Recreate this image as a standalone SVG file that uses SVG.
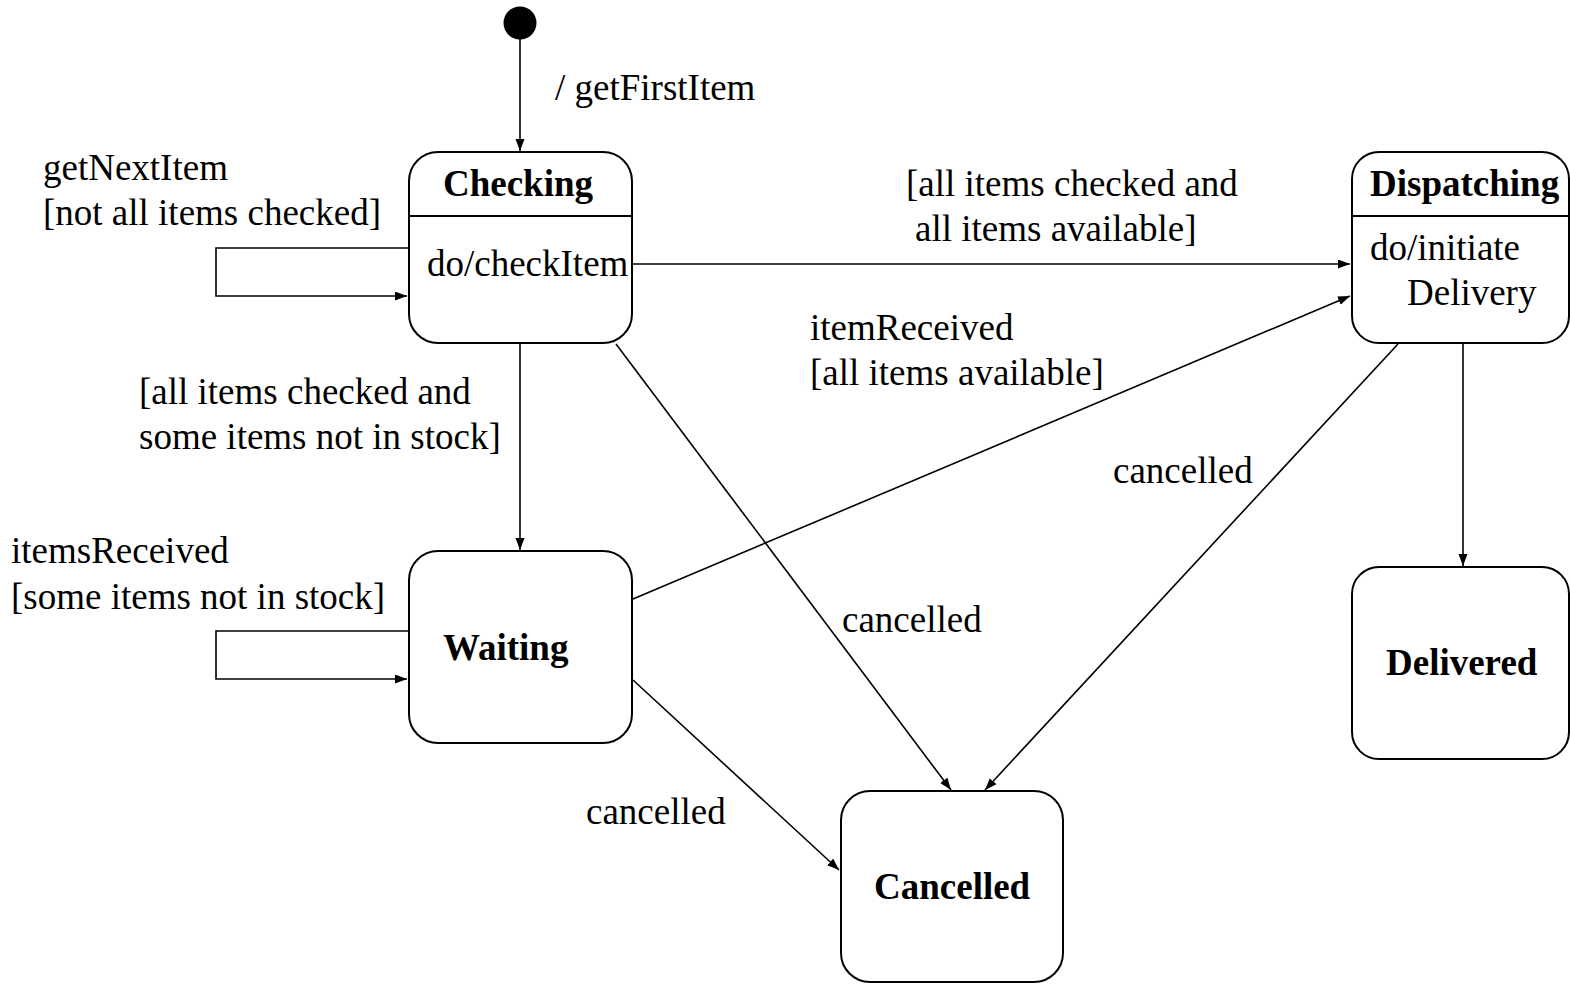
<svg xmlns="http://www.w3.org/2000/svg" width="1570" height="984" viewBox="0 0 1570 984">
  <style>
    .state { fill: #ffffff; stroke: #000000; stroke-width: 2; }
    .edge { fill: none; stroke: #000000; stroke-width: 1.6; }
    .name { font-family: "Liberation Serif", "Times New Roman", serif; font-size: 37px; font-weight: bold; fill: #000000; }
    .body { font-family: "Liberation Serif", "Times New Roman", serif; font-size: 37px; fill: #000000; }
    .lbl { font-family: "Liberation Serif", "Times New Roman", serif; font-size: 37px; fill: #000000; }
  </style>
  <defs>
    <marker id="arrow" markerUnits="userSpaceOnUse" markerWidth="14" markerHeight="10" refX="12" refY="4.5" orient="auto">
      <path d="M0,0 L12,4.5 L0,9 z" fill="#000000"/>
    </marker>
  </defs>
  <rect width="1570" height="984" fill="#ffffff"/>

  <!-- transitions -->
  <g id="connectors">
    <line class="edge" x1="520" y1="38" x2="520" y2="151" marker-end="url(#arrow)"/>
    <polyline class="edge" points="408,248 216,248 216,296 407,296" marker-end="url(#arrow)"/>
    <line class="edge" x1="633" y1="264" x2="1350" y2="264" marker-end="url(#arrow)"/>
    <line class="edge" x1="520" y1="344" x2="520" y2="550" marker-end="url(#arrow)"/>
    <line class="edge" x1="616" y1="344" x2="951" y2="790" marker-end="url(#arrow)"/>
    <line class="edge" x1="633" y1="599" x2="1350" y2="296" marker-end="url(#arrow)"/>
    <line class="edge" x1="1398" y1="344" x2="985" y2="790" marker-end="url(#arrow)"/>
    <line class="edge" x1="1463" y1="344" x2="1463" y2="566" marker-end="url(#arrow)"/>
    <polyline class="edge" points="408,631 216,631 216,679 407,679" marker-end="url(#arrow)"/>
    <line class="edge" x1="633" y1="680" x2="839" y2="870" marker-end="url(#arrow)"/>
  </g>

  <!-- transition labels -->
  <g id="labels">
    <text class="lbl" x="555" y="100">/ getFirstItem</text>
    <text class="lbl" x="43" y="180">getNextItem</text>
    <text class="lbl" x="43" y="225">[not all items checked]</text>
    <text class="lbl" x="906" y="196">[all items checked and</text>
    <text class="lbl" x="915" y="241">all items available]</text>
    <text class="lbl" x="810" y="340">itemReceived</text>
    <text class="lbl" x="810" y="385">[all items available]</text>
    <text class="lbl" x="139" y="404">[all items checked and</text>
    <text class="lbl" x="139" y="449">some items not in stock]</text>
    <text class="lbl" x="1113" y="483">cancelled</text>
    <text class="lbl" x="11" y="563">itemsReceived</text>
    <text class="lbl" x="11" y="609">[some items not in stock]</text>
    <text class="lbl" x="842" y="632">cancelled</text>
    <text class="lbl" x="586" y="824">cancelled</text>
  </g>

  <!-- states -->
  <g id="initial">
    <circle cx="520" cy="23" r="16.5" fill="#000000"/>
  </g>
  <g id="checking">
    <rect class="state" x="409" y="152" width="223" height="191" rx="29" ry="29"/>
    <line class="state" x1="409" y1="216" x2="632" y2="216"/>
    <text class="name" x="518" y="196" text-anchor="middle">Checking</text>
    <text class="body" x="427" y="276">do/checkItem</text>
  </g>
  <g id="dispatching">
    <rect class="state" x="1352" y="152" width="217" height="191" rx="27" ry="27"/>
    <line class="state" x1="1352" y1="216" x2="1569" y2="216"/>
    <text class="name" x="1370" y="196">Dispatching</text>
    <text class="body" x="1370" y="260">do/initiate</text>
    <text class="body" x="1407" y="305">Delivery</text>
  </g>
  <g id="waiting">
    <rect class="state" x="409" y="551" width="223" height="192" rx="29" ry="29"/>
    <text class="name" x="443" y="660">Waiting</text>
  </g>
  <g id="delivered">
    <rect class="state" x="1352" y="567" width="217" height="192" rx="27" ry="27"/>
    <text class="name" x="1386" y="675">Delivered</text>
  </g>
  <g id="cancelled">
    <rect class="state" x="841" y="791" width="222" height="191" rx="29" ry="29"/>
    <text class="name" x="874" y="899">Cancelled</text>
  </g>
</svg>
